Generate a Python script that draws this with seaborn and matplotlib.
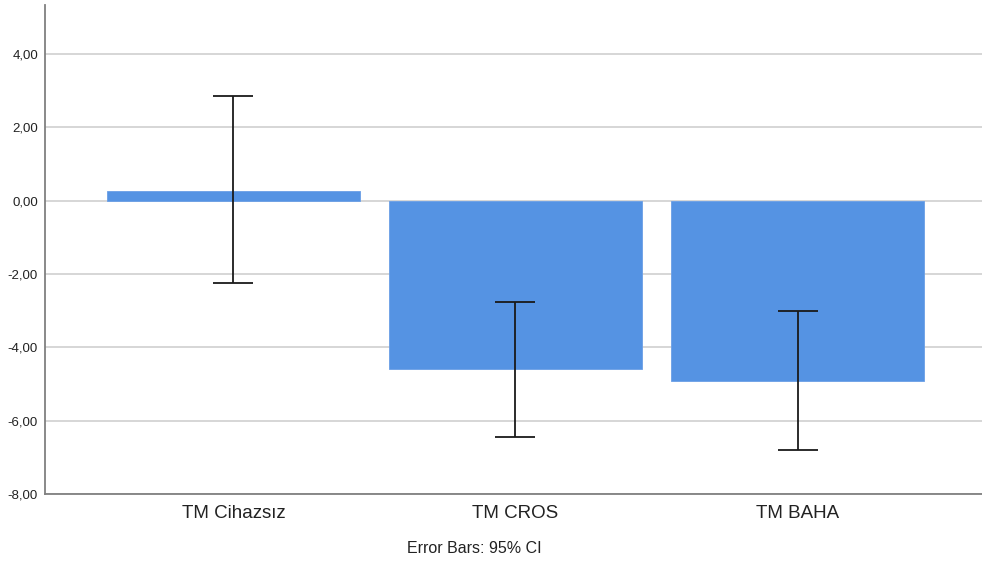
import numpy as np
import pandas as pd
import matplotlib
matplotlib.use("Agg")
import matplotlib.pyplot as plt
import seaborn as sns
from matplotlib.ticker import FuncFormatter

# değerler
kategoriler = ["TM Cihazsız", "TM CROS", "TM BAHA"]
ortalama = [0.27, -4.60, -4.91]
ci_alt = [-2.26, -6.44, -6.81]
ci_ust = [2.84, -2.76, -3.02]

df = pd.DataFrame({"grup": kategoriler, "deger": ortalama})

sns.set_style("white")
plt.rcParams["font.family"] = ["Liberation Sans", "DejaVu Sans"]

fig = plt.figure(figsize=(9.82, 5.64), dpi=100)
ax = fig.add_axes([0.0458, 0.1241, 0.9542, 0.8670])

sns.barplot(data=df, x="grup", y="deger", color="#5593E3", saturation=1,
            width=0.897, errorbar=None, ax=ax, zorder=2,
            edgecolor="#6a9fe6", linewidth=0.6)

x = np.arange(len(kategoriler))
ort = np.array(ortalama)
hata = [ort - np.array(ci_alt), np.array(ci_ust) - ort]
ax.errorbar(x, ort, yerr=hata, fmt="none", ecolor="#1a1a1a", elinewidth=1.3,
            capsize=14.4, capthick=1.3, zorder=3)

ax.set_ylim(-8, 5.33)
ax.set_xlim(-0.668, 2.654)
ax.set_yticks([-8, -6, -4, -2, 0, 2, 4])
ax.yaxis.set_major_formatter(FuncFormatter(lambda v, p: f"{v:.2f}".replace(".", ",")))
ax.grid(axis="y", color="#cfcfcf", linewidth=1.2, zorder=0)
ax.set_axisbelow(True)

for s in ["top", "right"]:
    ax.spines[s].set_visible(False)
for s in ["left", "bottom"]:
    ax.spines[s].set_color("#808080")
    ax.spines[s].set_linewidth(1.3)

ax.tick_params(axis="y", length=0, pad=5, labelsize=9.5, labelcolor="#222222")
ax.tick_params(axis="x", length=0, pad=8, labelsize=13.5, labelcolor="#222222")
ax.set_xlabel("")
ax.set_ylabel("")

fig.text(0.483, 0.028, "Error Bars: 95% CI", ha="center", va="center",
         fontsize=11.5, color="#222222")

fig.savefig("out.png", dpi=100)
